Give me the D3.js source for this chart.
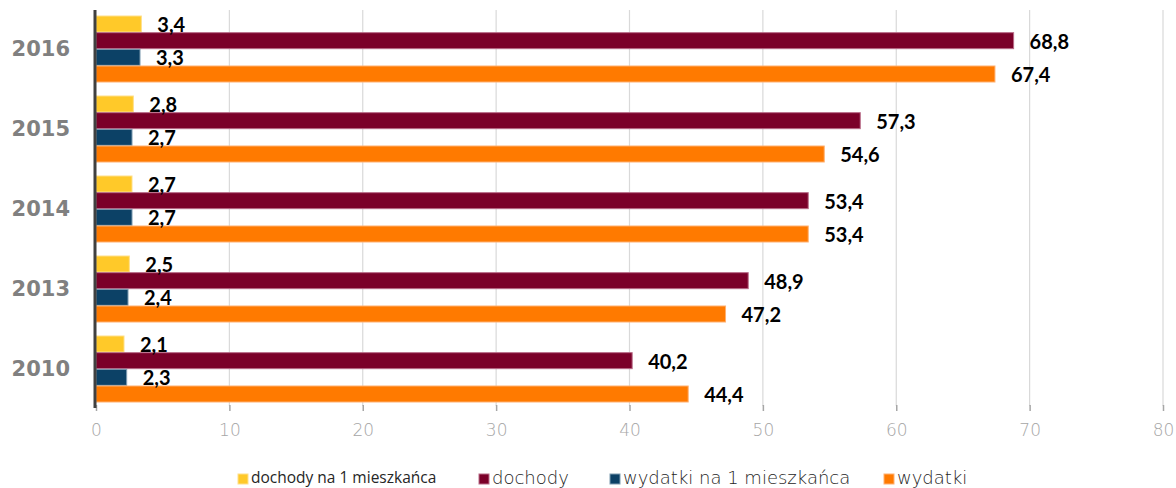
<!DOCTYPE html>
<html>
<head>
<meta charset="utf-8">
<script src="https://cdn.jsdelivr.net/npm/d3@7"></script>
<style>
  body { margin: 0; background: #fff; }
</style>
</head>
<body>
<div id="chart"></div>
<script>
var svgWidth = 1176;
var svgHeight = 488;

// data
var years = ["2016", "2015", "2014", "2013", "2010"];
var seriesNames = ["dochody na 1 mieszkańca", "dochody", "wydatki na 1 mieszkańca", "wydatki"];
var dochodyNa1 = [3.4, 2.8, 2.7, 2.5, 2.1];
var dochody = [68.8, 57.3, 53.4, 48.9, 40.2];
var wydatkiNa1 = [3.3, 2.7, 2.7, 2.4, 2.3];
var wydatki = [67.4, 54.6, 53.4, 47.2, 44.4];
var xTicks = [0, 10, 20, 30, 40, 50, 60, 70, 80];

var colors = ["#ffc929", "#7b0029", "#0c4166", "#ff7a00"];
var strokes = ["#ffe08a", "#b86a86", "#7d9bb0", "#ffb070"];

var seriesValues = [dochodyNa1, dochody, wydatkiNa1, wydatki];

var svg = d3.select("#chart")
  .append("svg")
  .attr("width", svgWidth)
  .attr("height", svgHeight);

var plotTop = 10, plotBottom = 406;

var x = d3.scaleLinear().domain([0, 80]).range([96, 1163]);

var yOuter = d3.scaleBand().domain(years).range([8, 408]).padding(0);
var yInner = d3.scaleBand().domain(d3.range(4)).range([8, 74]).paddingInner(0.04);

// gridlines
svg.append("g")
  .selectAll("line")
  .data(xTicks.slice(1))
  .enter()
  .append("line")
  .attr("x1", d => x(d))
  .attr("x2", d => x(d))
  .attr("y1", plotTop)
  .attr("y2", plotBottom)
  .attr("stroke", "#d9d9d9")
  .attr("stroke-width", 1.2);

// bottom axis (ticks + labels only)
var xAxis = d3.axisBottom(x).tickValues(xTicks).tickSize(6).tickFormat(d3.format("d"));
var xAxisG = svg.append("g")
  .attr("transform", `translate(0, ${plotBottom - 1})`)
  .call(xAxis);
xAxisG.select(".domain").remove();
xAxisG.selectAll(".tick line").attr("stroke", "#a6a6a6").attr("stroke-width", 1.5);
xAxisG.selectAll(".tick text")
  .attr("dy", "1.3em")
  .attr("fill", "#a6a6a6")
  .attr("font-family", "'DejaVu Sans', sans-serif")
  .attr("font-weight", 200)
  .attr("font-size", "17px");

var fmt = d => d3.format(".1f")(d).replace(".", ",");

// bars
var groups = svg.append("g")
  .selectAll("g")
  .data(years)
  .enter()
  .append("g")
  .attr("transform", d => `translate(0, ${yOuter(d)})`);

groups.each(function(year, yi) {
  var g = d3.select(this);
  seriesValues.forEach(function(vals, si) {
    g.append("rect")
      .attr("x", x(0))
      .attr("y", yInner(si))
      .attr("width", x(vals[yi]) - x(0))
      .attr("height", yInner.bandwidth())
      .attr("fill", colors[si])
      .attr("stroke", strokes[si])
      .attr("stroke-width", 1);
  });
});

// value labels drawn on top of all bars
groups.each(function(year, yi) {
  var g = d3.select(this);
  seriesValues.forEach(function(vals, si) {
    var v = vals[yi];
    g.append("text")
      .attr("x", x(v) + 16)
      .attr("y", yInner(si) + yInner.bandwidth() / 2 + 3)
      .attr("dominant-baseline", "middle")
      .attr("font-family", "Lato, sans-serif")
      .attr("font-weight", 700)
      .attr("font-size", "20px")
      .attr("fill", "#000")
      .text(fmt(v));
  });
});

// year labels
svg.append("g")
  .selectAll("text")
  .data(years)
  .enter()
  .append("text")
  .attr("x", 70)
  .attr("y", d => yOuter(d) + yOuter.bandwidth() / 2 + 2)
  .attr("text-anchor", "end")
  .attr("dominant-baseline", "middle")
  .attr("font-family", "'DejaVu Sans', sans-serif")
  .attr("font-weight", 700)
  .attr("font-size", "21px")
  .attr("fill", "#808080")
  .text(d => d);

// left axis line
svg.append("line")
  .attr("x1", x(0) - 1)
  .attr("x2", x(0) - 1)
  .attr("y1", plotTop)
  .attr("y2", plotBottom + 2)
  .attr("stroke", "#404040")
  .attr("stroke-width", 3);

// legend
var legendX = [238, 479, 610, 884];
var legend = svg.append("g");
seriesNames.forEach(function(name, i) {
  legend.append("rect")
    .attr("x", legendX[i])
    .attr("y", 474)
    .attr("width", 10)
    .attr("height", 10)
    .attr("fill", colors[i])
    .attr("stroke", strokes[i]);
  legend.append("text")
    .attr("x", legendX[i] + 13)
    .attr("y", 479)
    .attr("dominant-baseline", "middle")
    .attr("font-family", i === 0 ? "'Open Sans', sans-serif" : "'DejaVu Sans', sans-serif")
    .attr("font-weight", i === 0 ? 400 : 200)
    .attr("font-size", i === 0 ? "15.5px" : "18px")
    .attr("fill", "#262626")
    .text(name);
});
</script>
</body>
</html>
